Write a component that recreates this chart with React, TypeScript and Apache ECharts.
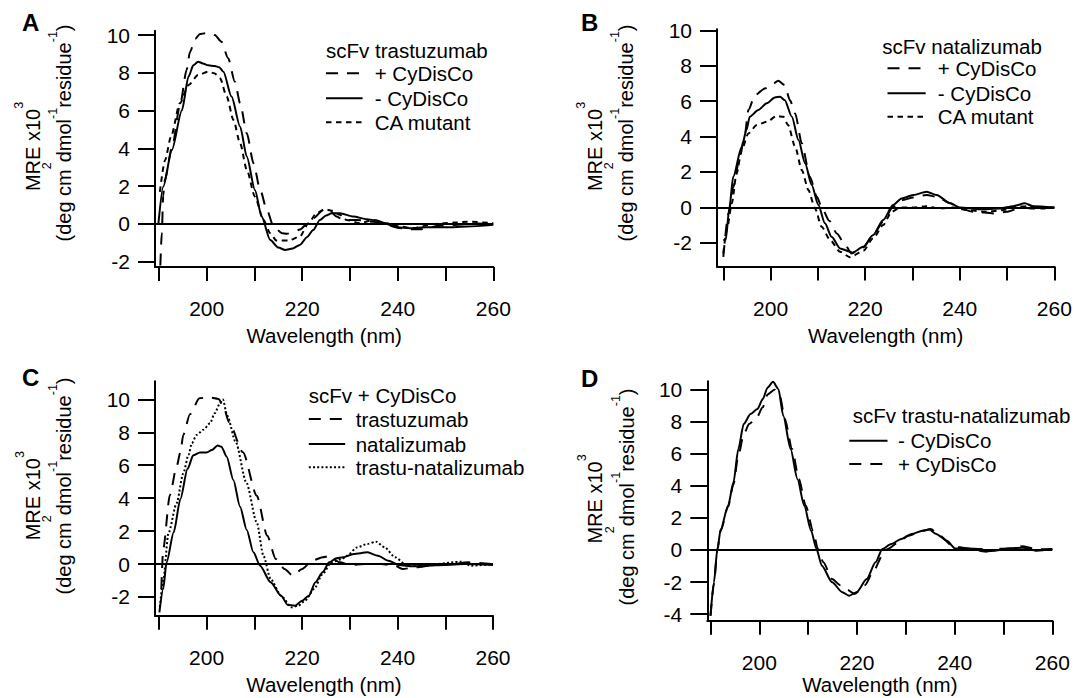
import React, { useEffect, useRef } from "react";
import * as echarts from "echarts";

const FONT = "'Liberation Sans', Arial, Helvetica, sans-serif";

// ---------------- data (wavelength in nm, MRE x10^3) ----------------
// Panel A: scFv trastuzumab
const aPlusX = [190.3, 190.6, 190.9, 191.2, 192.7, 194.5, 195.8, 196.5, 197.6, 198.6, 199.7, 200.8, 201.7, 203.1, 204.5, 205.9, 207.0, 208.4, 209.8, 211.2, 212.6, 214.0, 215.8, 216.8, 218.0, 219.5, 221.0, 222.3, 224.4, 225.5, 227.2, 228.6, 231.4, 234.9, 237.7, 240.0, 241.9, 244.7, 248.8, 252.0, 254.5, 257.0, 260.0];
const aPlusY = [-2.2, -0.5, 1.5, 2.3, 4.0, 6.4, 8.15, 9.1, 9.8, 10.05, 10.1, 10.1, 10.0, 9.64, 8.77, 7.53, 6.39, 4.8, 3.21, 1.8, 0.74, -0.14, -0.49, -0.52, -0.45, -0.3, 0.0, 0.3, 0.74, 0.78, 0.39, 0.21, 0.21, 0.12, -0.05, -0.2, -0.28, -0.28, -0.1, -0.05, 0.0, 0.02, -0.05];
const aMinusX = [189.9, 190.9, 192.7, 194.8, 196.2, 197.2, 198.2, 199.2, 200.3, 201.7, 202.6, 203.5, 205.2, 207.0, 208.4, 210.1, 211.5, 213.3, 215.0, 216.4, 218.0, 219.5, 221.0, 222.3, 223.7, 225.0, 226.2, 227.9, 230.7, 233.5, 235.6, 237.7, 239.8, 242.6, 246.1, 250.3, 254.5, 260.0];
const aMinusY = [0.04, 1.97, 3.9, 6.0, 7.8, 8.4, 8.59, 8.5, 8.4, 8.36, 8.3, 8.06, 6.74, 5.15, 3.56, 1.8, 0.39, -0.85, -1.25, -1.38, -1.3, -1.11, -0.7, -0.32, 0.21, 0.45, 0.57, 0.57, 0.39, 0.25, 0.18, 0.0, -0.18, -0.23, -0.18, -0.18, -0.14, -0.05];
const aCaX = [190.2, 191.3, 192.5, 194.4, 196.2, 198.2, 200.3, 201.7, 202.8, 204.2, 205.6, 207.0, 208.4, 210.1, 211.9, 213.3, 214.6, 217.1, 219.5, 221.3, 223.0, 224.8, 226.2, 227.9, 229.3, 232.1, 234.9, 237.7, 240.5, 243.3, 247.5, 251.7, 254.5, 260.0];
const aCaY = [1.7, 3.39, 4.6, 6.39, 7.35, 7.88, 8.06, 7.97, 7.71, 6.74, 5.5, 4.27, 2.86, 1.44, 0.21, -0.49, -0.88, -0.88, -0.67, 0.03, 0.57, 0.78, 0.7, 0.48, 0.21, 0.04, 0.21, 0.04, -0.14, -0.23, 0.0, 0.07, 0.12, 0.04];

// Panel B: scFv natalizumab
const bPlusX = [190.0, 191.1, 192.1, 193.5, 194.6, 195.3, 196.7, 198.8, 200.6, 201.6, 203.0, 204.1, 205.2, 206.6, 208.3, 209.8, 210.8, 212.4, 214.0, 215.8, 217.1, 219.6, 221.7, 223.8, 225.9, 227.7, 230.2, 233.0, 235.1, 238.0, 240.0, 242.9, 247.1, 249.9, 253.1, 255.5, 260.0];
const bPlusY = [-2.8, -0.34, 1.16, 2.86, 4.18, 5.5, 6.34, 6.72, 7.0, 7.15, 6.91, 6.05, 5.31, 3.62, 1.73, 0.6, 0.0, -0.75, -1.47, -2.13, -2.6, -2.26, -1.56, -0.81, 0.03, 0.4, 0.56, 0.7, 0.6, 0.23, -0.06, -0.25, -0.34, -0.25, 0.0, -0.06, 0.0];
const bMinusX = [190.0, 190.5, 191.3, 192.1, 193.9, 194.9, 195.6, 197.4, 199.2, 200.9, 202.0, 203.0, 204.5, 205.9, 207.3, 208.7, 210.1, 211.5, 212.9, 214.7, 216.8, 217.3, 219.6, 221.7, 223.8, 225.9, 227.7, 230.2, 233.0, 235.1, 238.0, 240.0, 244.3, 248.5, 251.3, 253.8, 255.5, 260.0];
const bMinusY = [-1.85, -1.85, 0.0, 1.73, 3.42, 4.37, 5.12, 5.5, 5.88, 6.21, 6.25, 6.05, 5.12, 3.8, 2.49, 1.26, 0.13, -0.9, -1.66, -2.32, -2.5, -2.56, -2.23, -1.56, -0.72, 0.13, 0.5, 0.7, 0.88, 0.7, 0.23, 0.0, -0.11, -0.06, 0.07, 0.23, 0.07, 0.0];
const bCaX = [190.0, 190.8, 191.8, 192.8, 193.9, 195.3, 197.1, 199.2, 201.3, 202.7, 203.7, 205.2, 206.6, 208.0, 209.4, 210.8, 212.6, 214.7, 216.8, 219.6, 221.7, 223.8, 225.6, 227.4, 230.2, 233.0, 235.8, 238.6, 241.5, 245.7, 249.2, 252.4, 254.9, 257.5, 260.0];
const bCaY = [-2.6, -1.2, 0.23, 1.9, 3.24, 4.18, 4.65, 4.84, 5.16, 5.12, 4.65, 3.42, 2.11, 0.98, -0.06, -1.1, -1.85, -2.51, -2.82, -2.45, -1.75, -1.0, -0.25, 0.0, 0.0, 0.06, -0.06, 0.0, -0.15, -0.25, -0.15, 0.04, 0.07, -0.06, 0.0];

// Panel C: scFv + CyDisCo
const cTrasX = [190.5, 190.9, 192.3, 193.7, 194.5, 195.1, 196.5, 198.5, 200.3, 202.5, 203.5, 204.7, 207.6, 210.5, 212.7, 214.5, 216.3, 218.1, 220.0, 222.1, 224.3, 225.7, 227.9, 230.1, 233.0, 236.6, 239.5, 241.0, 243.9, 247.5, 251.2, 254.8, 260.0];
const cTrasY = [-1.52, 0.91, 4.2, 5.91, 6.79, 7.84, 9.1, 10.07, 10.13, 10.03, 9.6, 8.61, 6.79, 4.15, 1.72, 0.3, -0.3, -0.71, -0.3, 0.2, 0.41, 0.47, 0.1, -0.06, 0.0, 0.0, -0.1, -0.3, -0.2, -0.06, 0.0, 0.1, 0.0];
const cNataX = [190.1, 190.9, 191.6, 193.1, 194.5, 196.0, 197.2, 198.6, 200.0, 201.1, 202.3, 203.1, 204.2, 205.6, 207.0, 208.4, 209.8, 211.2, 213.4, 215.6, 217.0, 218.5, 220.0, 221.4, 222.8, 224.3, 225.7, 227.2, 228.6, 230.8, 233.7, 235.9, 238.1, 240.3, 243.2, 246.1, 249.7, 254.1, 260.0];
const cNataY = [-2.94, -1.52, 0.1, 1.93, 3.95, 5.78, 6.6, 6.77, 6.77, 6.93, 7.2, 7.13, 6.52, 5.1, 3.48, 2.07, 0.71, -0.1, -1.11, -1.93, -2.49, -2.53, -2.23, -1.93, -1.11, -0.5, 0.1, 0.35, 0.41, 0.61, 0.71, 0.5, 0.2, -0.06, -0.14, -0.1, -0.06, 0.0, -0.06];
const cTnX = [190.2, 190.9, 192.0, 193.7, 195.1, 196.2, 196.9, 197.9, 199.3, 200.7, 201.7, 202.8, 203.4, 204.3, 206.1, 208.3, 210.5, 211.9, 213.4, 215.6, 217.8, 219.2, 220.6, 222.5, 224.3, 226.1, 228.3, 229.4, 231.5, 233.7, 235.5, 237.3, 239.5, 241.6, 244.6, 248.2, 253.3, 255.4, 260.0];
const cTnY = [-2.6, -1.0, 1.87, 3.69, 5.5, 6.63, 7.34, 7.84, 8.15, 8.55, 9.16, 9.77, 10.0, 9.02, 7.4, 4.97, 2.53, 0.5, -0.91, -1.93, -2.63, -2.53, -2.23, -1.52, -0.61, 0.1, 0.3, 0.5, 1.01, 1.22, 1.36, 1.01, 0.41, 0.0, -0.1, 0.0, 0.14, -0.1, 0.0];

// Panel D: scFv trastu-natalizumab
const dMinusX = [190.0, 190.7, 191.4, 192.1, 193.6, 194.7, 195.7, 196.8, 198.2, 199.6, 200.7, 201.7, 202.8, 203.9, 204.9, 206.4, 207.8, 209.2, 210.6, 211.7, 212.8, 214.9, 217.0, 218.4, 219.9, 222.0, 223.8, 225.2, 227.0, 229.1, 231.2, 233.4, 234.8, 236.2, 238.4, 240.1, 242.6, 245.4, 246.5, 248.3, 251.1, 254.0, 256.8, 260.0];
const dMinusY = [-4.1, -2.01, 0.06, 1.31, 2.76, 4.22, 6.3, 7.86, 8.48, 8.79, 9.41, 10.14, 10.49, 10.04, 8.37, 6.3, 4.43, 2.76, 1.2, 0.06, -0.98, -2.01, -2.64, -2.85, -2.64, -1.81, -0.77, 0.06, 0.37, 0.69, 1.0, 1.2, 1.27, 1.0, 0.58, 0.1, 0.1, 0.06, -0.1, -0.04, 0.1, 0.14, -0.04, 0.06];
const dPlusX = [190.0, 190.7, 191.4, 192.1, 193.6, 194.7, 195.7, 196.8, 197.9, 199.3, 200.7, 201.7, 203.1, 204.2, 205.2, 206.7, 208.1, 209.5, 211.0, 212.0, 213.1, 214.9, 216.6, 218.1, 219.5, 221.6, 223.4, 225.2, 226.2, 228.4, 230.5, 233.4, 235.1, 236.9, 239.7, 242.6, 246.2, 248.3, 251.1, 254.0, 256.8, 260.0];
const dPlusY = [-4.1, -2.1, 0.0, 1.2, 2.7, 4.1, 5.9, 7.2, 7.86, 8.17, 8.9, 9.7, 10.0, 9.6, 8.2, 6.3, 4.43, 2.76, 1.2, 0.06, -0.77, -1.81, -2.2, -2.5, -2.75, -2.2, -1.3, -0.35, 0.05, 0.45, 0.89, 1.2, 1.31, 0.89, 0.23, 0.1, -0.1, 0.06, 0.1, 0.23, 0.04, 0.06];

// ticks and labels
const X_TICKS = [190, 200, 210, 220, 230, 240, 250, 260];
const X_LABELS = [200, 220, 240, 260];
const Y_TICKS_ABC = [-2, 0, 2, 4, 6, 8, 10];
const Y_TICKS_D = [-4, -2, 0, 2, 4, 6, 8, 10];
const X_TITLE = "Wavelength (nm)";

// line styles
const DASH_LONG = [12, 9];
const DASH_SHORT = [5.5, 4.5];
const DOT = [2, 2.2];
const SOLID = "solid";

type Ser = { name: string; x: number[]; y: number[]; dash: any };

const PANELS = [
  {
    letter: "A", letterX: 22, letterY: 22.5,
    grid: { left: 155, top: 30.7, width: 338.3, height: 236.3 },
    xMin: 189.18, yMin: -2.28, yMax: 10.23, yTicks: Y_TICKS_ABC, nameGap: 58,
    yt: { b1: 39.5, c1: 146.5, b2: 71, c2: 133 },
    legend: { title: "scFv trastuzumab", tx: 326, ty: 50, lx0: 326, lx1: 362.6, textX: 374.7, rows: [73.3, 98.3, 122.3] },
    series: [
      { name: "+ CyDisCo", x: aPlusX, y: aPlusY, dash: DASH_LONG },
      { name: "- CyDisCo", x: aMinusX, y: aMinusY, dash: SOLID },
      { name: "CA mutant", x: aCaX, y: aCaY, dash: DASH_SHORT },
    ] as Ser[],
  },
  {
    letter: "B", letterX: 581, letterY: 22.5,
    grid: { left: 717, top: 29.3, width: 337.3, height: 237.2 },
    xMin: 188.67, yMin: -3.34, yMax: 10.06, yTicks: Y_TICKS_ABC, nameGap: 58,
    yt: { b1: 601.5, c1: 146.5, b2: 633, c2: 133 },
    legend: { title: "scFv natalizumab", tx: 882.3, ty: 46.7, lx0: 887.5, lx1: 925.7, textX: 937.8, rows: [68.3, 93.3, 116.7] },
    series: [
      { name: "+ CyDisCo", x: bPlusX, y: bPlusY, dash: DASH_LONG },
      { name: "- CyDisCo", x: bMinusX, y: bMinusY, dash: SOLID },
      { name: "CA mutant", x: bCaX, y: bCaY, dash: DASH_SHORT },
    ] as Ser[],
  },
  {
    letter: "C", letterX: 22, letterY: 377.3,
    grid: { left: 155, top: 381.3, width: 338, height: 234.4 },
    xMin: 189.18, yMin: -3.14, yMax: 11.1, yTicks: Y_TICKS_ABC, nameGap: 58,
    yt: { b1: 40, c1: 495.7, b2: 71, c2: 486 },
    legend: { title: "scFv + CyDisCo", tx: 308.8, ty: 395.7, lx0: 308.8, lx1: 345.2, textX: 355.7, rows: [419, 444, 467.3] },
    series: [
      { name: "trastuzumab", x: cTrasX, y: cTrasY, dash: DASH_LONG },
      { name: "natalizumab", x: cNataX, y: cNataY, dash: SOLID },
      { name: "trastu-natalizumab", x: cTnX, y: cTnY, dash: DOT },
    ] as Ser[],
  },
  {
    letter: "D", letterX: 581, letterY: 378,
    grid: { left: 707.3, top: 381.3, width: 345, height: 239.4 },
    xMin: 189.34, yMin: -4.41, yMax: 10.52, yTicks: Y_TICKS_D, nameGap: 47,
    yt: { b1: 602, c1: 499, b2: 634, c2: 497 },
    legend: { title: "scFv trastu-natalizumab", tx: 852.8, ty: 415.7, lx0: 849.3, lx1: 887.5, textX: 897.9, rows: [440.7, 464] },
    series: [
      { name: "- CyDisCo", x: dMinusX, y: dMinusY, dash: SOLID },
      { name: "+ CyDisCo", x: dPlusX, y: dPlusY, dash: DASH_LONG },
    ] as Ser[],
  },
];

const Y_LINE1 = [
  { t: "MRE x10", s: 20, r: 0 },
  { t: "3", s: 12.5, r: 16 },
];
const Y_LINE2 = [
  { t: "(deg cm", s: 20, r: 0 },
  { t: "2", s: 12.5, r: 20 },
  { t: "dmol", s: 20, r: 0 },
  { t: "-1", s: 12.5, r: 14 },
  { t: "residue", s: 20, r: 0 },
  { t: "-1", s: 12.5, r: 14 },
  { t: ")", s: 20, r: 0 },
];

function txt(x: number, y: number, text: string, size: number, align: string, extra: any = {}, weight = "normal") {
  return {
    type: "text",
    x,
    y,
    silent: true,
    ...extra,
    style: {
      text,
      fill: "#000",
      fontSize: size,
      fontFamily: FONT,
      fontWeight: weight,
      align,
      verticalAlign: "middle",
      textAlign: align,
      textVerticalAlign: "middle",
    },
  };
}

function buildOption() {
  const canvas = document.createElement("canvas");
  const ctx = canvas.getContext("2d") as CanvasRenderingContext2D;
  const measure = (t: string, s: number) => {
    ctx.font = `${s}px ${FONT}`;
    return ctx.measureText(t).width;
  };

  const graphic: any[] = [];
  const addRotLine = (segs: { t: string; s: number; r: number }[], base: number, center: number) => {
    const widths = segs.map((s) => measure(s.t, s.s));
    const total = widths.reduce((a, b) => a + b, 0);
    let y = center + total / 2;
    segs.forEach((s, i) => {
      const bx = base - s.r;
      graphic.push(txt(bx - 0.3465 * s.s, y, s.t, s.s, "left", { rotation: Math.PI / 2 }));
      y -= widths[i];
    });
  };

  const grid: any[] = [];
  const xAxis: any[] = [];
  const yAxis: any[] = [];
  const series: any[] = [];

  PANELS.forEach((p, i) => {
    grid.push({ ...p.grid, containLabel: false, outerBoundsMode: "none" });
    xAxis.push({
      type: "value",
      gridIndex: i,
      min: p.xMin,
      max: 260,
      name: X_TITLE,
      nameLocation: "middle",
      nameGap: p.nameGap,
      nameTextStyle: { color: "#000", fontSize: 20.5, fontFamily: FONT },
      axisLine: { show: true, onZero: false, lineStyle: { color: "#000", width: 2 } },
      axisTick: { show: true, inside: false, length: 14, customValues: X_TICKS, lineStyle: { color: "#000", width: 2 } },
      axisLabel: { show: true, customValues: X_LABELS, margin: 31, color: "#000", fontSize: 21, fontFamily: FONT },
      splitLine: { show: false },
    });
    yAxis.push({
      type: "value",
      gridIndex: i,
      min: p.yMin,
      max: p.yMax,
      axisLine: { show: true, onZero: false, lineStyle: { color: "#000", width: 2 } },
      axisTick: { show: true, inside: false, length: 17, customValues: p.yTicks, lineStyle: { color: "#000", width: 2 } },
      axisLabel: { show: true, customValues: p.yTicks, margin: 25, color: "#000", fontSize: 21, fontFamily: FONT },
      splitLine: { show: false },
    });
    p.series.forEach((s, k) => {
      const item: any = {
        type: "line",
        name: s.name,
        xAxisIndex: i,
        yAxisIndex: i,
        data: s.x.map((xv, j) => [xv, s.y[j]]),
        showSymbol: false,
        symbol: "none",
        smooth: 0.25,
        smoothMonotone: "x",
        lineStyle: { color: "#000", width: 2, type: s.dash },
        emphasis: { disabled: true },
        silent: true,
        z: 3,
      };
      if (k === 0) {
        item.markLine = {
          silent: true,
          symbol: ["none", "none"],
          label: { show: false },
          lineStyle: { color: "#000", width: 2, type: "solid" },
          emphasis: { disabled: true },
          data: [{ yAxis: 0 }],
        };
      }
      series.push(item);
    });

    // panel letter
    graphic.push(txt(p.letterX, p.letterY, p.letter, 24, "left", {}, "bold"));

    // legend
    const L = p.legend;
    graphic.push(txt(L.tx, L.ty, L.title, 20.5, "left"));
    p.series.forEach((s, k) => {
      const ry = L.rows[k];
      graphic.push({
        type: "line",
        silent: true,
        shape: { x1: L.lx0, y1: ry, x2: L.lx1, y2: ry },
        style: { stroke: "#000", lineWidth: 2, lineDash: s.dash === SOLID ? null : s.dash },
      });
      graphic.push(txt(L.textX, ry, s.name, 20.5, "left"));
    });

    // y title
    addRotLine(Y_LINE1, p.yt.b1, p.yt.c1);
    addRotLine(Y_LINE2, p.yt.b2, p.yt.c2);
  });

  return {
    animation: false,
    backgroundColor: "#fff",
    grid,
    xAxis,
    yAxis,
    series,
    graphic: { elements: graphic },
  };
}

export default function App() {
  const ref = useRef<HTMLDivElement>(null);
  useEffect(() => {
    if (!ref.current) return;
    const chart = echarts.init(ref.current, undefined, { renderer: "svg", width: 1088, height: 698 });
    chart.setOption(buildOption() as any);
    return () => chart.dispose();
  }, []);
  return (
    <div
      ref={ref}
      style={{ position: "absolute", left: 0, top: 0, width: 1088, height: 698, background: "#fff" }}
    />
  );
}
